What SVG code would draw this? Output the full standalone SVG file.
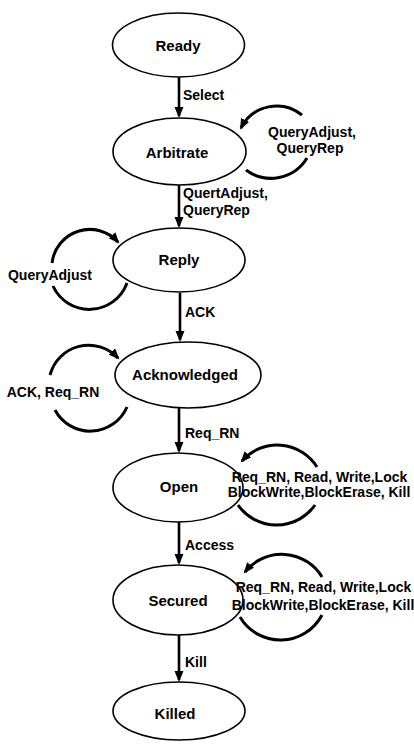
<svg xmlns="http://www.w3.org/2000/svg" width="414" height="746" viewBox="0 0 414 746">
<style>
.node ellipse{fill:#fff;stroke:#000;stroke-width:1.6}
.nt{font-family:"Liberation Sans",Arial,sans-serif;font-weight:bold;font-size:15px;text-anchor:middle;fill:#000}
.el{font-family:"Liberation Sans",Arial,sans-serif;font-weight:bold;font-size:14px;fill:#000}
.c{text-anchor:middle}
.edge{fill:none;stroke:#000;stroke-width:2.6}
.loop{fill:none;stroke:#000;stroke-width:3}
</style>
<defs>
<marker id="ah" markerUnits="userSpaceOnUse" markerWidth="12" markerHeight="10" refX="9" refY="4.5" orient="auto">
<path d="M0,0 L11,4.5 L0,9 z" fill="#000"/>
</marker>
</defs>
<rect width="414" height="746" fill="#fff"/>
<g id="connectors">
<path class="edge" d="M179,77 V116" marker-end="url(#ah)"/>
<path class="edge" d="M179,185 V226" marker-end="url(#ah)"/>
<path class="edge" d="M180,293 V340" marker-end="url(#ah)"/>
<path class="edge" d="M179,408 V451" marker-end="url(#ah)"/>
<path class="edge" d="M179,522 V563" marker-end="url(#ah)"/>
<path class="edge" d="M179,635 V680" marker-end="url(#ah)"/>
<path class="loop" d="M302,115 A40,40 0 0 0 241,128" marker-end="url(#ah)"/>
<path class="loop" d="M307,158 A42,42 0 0 1 246,170"/>
<path class="loop" d="M52,263 A38,38 0 0 1 118,242" marker-end="url(#ah)"/>
<path class="loop" d="M53,286 A40,40 0 0 0 127,283"/>
<path class="loop" d="M50,375 A40,40 0 0 1 118,358" marker-end="url(#ah)"/>
<path class="loop" d="M55,410 A40,40 0 0 0 127,407"/>
<path class="loop" d="M317,467 A47,47 0 0 0 242,461" marker-end="url(#ah)"/>
<path class="loop" d="M238,505 A47,47 0 0 0 315,505"/>
<path class="loop" d="M322,577 A47,47 0 0 0 245,572" marker-end="url(#ah)"/>
<path class="loop" d="M240,617 A47,47 0 0 0 322,615"/>
</g>
<g id="ready" class="node"><ellipse cx="178.5" cy="45" rx="66" ry="32"/><text class="nt" x="178" y="51">Ready</text></g>
<g id="arbitrate" class="node"><ellipse cx="179.5" cy="151.5" rx="66.5" ry="33.5"/><text class="nt" x="177" y="158">Arbitrate</text></g>
<g id="reply" class="node"><ellipse cx="179" cy="260" rx="66" ry="32"/><text class="nt" x="179" y="265">Reply</text></g>
<g id="acknowledged" class="node"><ellipse cx="188" cy="375" rx="73" ry="33"/><text class="nt" x="185" y="380">Acknowledged</text></g>
<g id="open" class="node"><ellipse cx="178" cy="487.5" rx="65" ry="34.5"/><text class="nt" x="179" y="492">Open</text></g>
<g id="secured" class="node"><ellipse cx="178" cy="600" rx="65" ry="35"/><text class="nt" x="178" y="606">Secured</text></g>
<g id="killed" class="node"><ellipse cx="179" cy="711" rx="66" ry="29"/><text class="nt" x="175" y="719">Killed</text></g>
<g id="edge-labels">
<text class="el" x="183" y="100">Select</text>
<text class="el c" x="312" y="137">QueryAdjust,</text>
<text class="el c" x="310" y="153">QueryRep</text>
<text class="el" x="183" y="198">QuertAdjust,</text>
<text class="el" x="183" y="215">QueryRep</text>
<text class="el c" x="50" y="280">QueryAdjust</text>
<text class="el" x="185" y="317">ACK</text>
<text class="el c" x="53" y="397">ACK, Req_RN</text>
<text class="el" x="185" y="438">Req_RN</text>
<text class="el c" x="319.5" y="482">Req_RN, Read, Write,Lock</text>
<text class="el c" x="319" y="497">BlockWrite,BlockErase, Kill</text>
<text class="el" x="185" y="550">Access</text>
<text class="el c" x="323.5" y="592">Req_RN, Read, Write,Lock</text>
<text class="el c" x="323" y="610">BlockWrite,BlockErase, Kill</text>
<text class="el" x="185" y="667">Kill</text>
</g>
</svg>
